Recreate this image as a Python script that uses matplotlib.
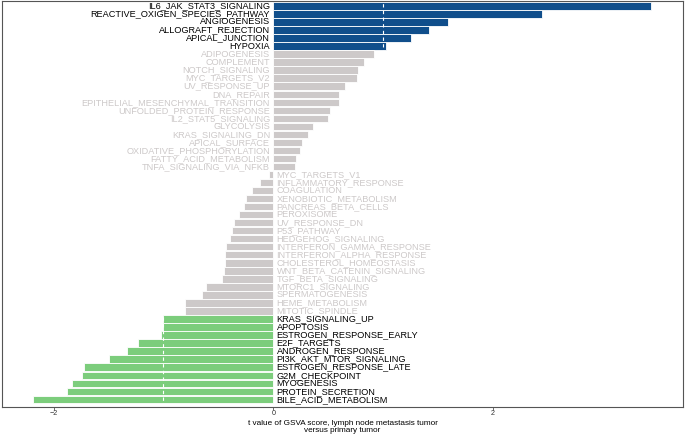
import numpy as np
import matplotlib.pyplot as plt

plt.rcParams['font.family'] = ['Liberation Sans', 'DejaVu Sans']

pathways = ['IL6_JAK_STAT3_SIGNALING', 'REACTIVE_OXIGEN_SPECIES_PATHWAY', 'ANGIOGENESIS',
            'ALLOGRAFT_REJECTION', 'APICAL_JUNCTION', 'HYPOXIA', 'ADIPOGENESIS', 'COMPLEMENT',
            'NOTCH_SIGNALING', 'MYC_TARGETS_V2', 'UV_RESPONSE_UP', 'DNA_REPAIR',
            'EPITHELIAL_MESENCHYMAL_TRANSITION', 'UNFOLDED_PROTEIN_RESPONSE', 'IL2_STAT5_SIGNALING',
            'GLYCOLYSIS', 'KRAS_SIGNALING_DN', 'APICAL_SURFACE', 'OXIDATIVE_PHOSPHORYLATION',
            'FATTY_ACID_METABOLISM', 'TNFA_SIGNALING_VIA_NFKB', 'MYC_TARGETS_V1',
            'INFLAMMATORY_RESPONSE', 'COAGULATION', 'XENOBIOTIC_METABOLISM', 'PANCREAS_BETA_CELLS',
            'PEROXISOME', 'UV_RESPONSE_DN', 'P53_PATHWAY', 'HEDGEHOG_SIGNALING',
            'INTERFERON_GAMMA_RESPONSE', 'INTERFERON_ALPHA_RESPONSE', 'CHOLESTEROL_HOMEOSTASIS',
            'WNT_BETA_CATENIN_SIGNALING', 'TGF_BETA_SIGNALING', 'MTORC1_SIGNALING',
            'SPERMATOGENESIS', 'HEME_METABOLISM', 'MITOTIC_SPINDLE', 'KRAS_SIGNALING_UP',
            'APOPTOSIS', 'ESTROGEN_RESPONSE_EARLY', 'E2F_TARGETS', 'ANDROGEN_RESPONSE',
            'PI3K_AKT_MTOR_SIGNALING', 'ESTROGEN_RESPONSE_LATE', 'G2M_CHECKPOINT', 'MYOGENESIS',
            'PROTEIN_SECRETION', 'BILE_ACID_METABOLISM']

tvals = [3.44, 2.45, 1.59, 1.42, 1.25, 1.03, 0.92, 0.83,
         0.77, 0.76, 0.65, 0.60,
         0.60, 0.52, 0.50,
         0.36, 0.32, 0.26, 0.24,
         0.21, 0.20, -0.04,
         -0.12, -0.19, -0.25, -0.27,
         -0.31, -0.36, -0.38, -0.39,
         -0.43, -0.44, -0.44,
         -0.45, -0.47, -0.61,
         -0.65, -0.80, -0.80, -1.00,
         -1.00, -1.02, -1.23, -1.33,
         -1.50, -1.72, -1.74, -1.83,
         -1.88, -2.19]

# group of each pathway: up (blue), n.s. (grey), down (green)
groups = ['up'] * 6 + ['ns'] * 33 + ['down'] * 11

bar_cols = {'up': '#104E8B', 'ns': '#CDC9C9', 'down': '#7CCD7C'}
txt_cols = {'up': 'black', 'ns': '#CDC9C9', 'down': 'black'}

n = len(tvals)
ypos = np.arange(n)[::-1]

fig = plt.figure(figsize=(6.85, 4.36), dpi=100)
ax = fig.add_axes([0.003, 0.0665, 0.994, 0.931])

ax.barh(ypos, tvals, height=0.92, color=[bar_cols[g] for g in groups],
        edgecolor='white', linewidth=0.6)
ax.axvline(1, color='white', ls=(0, (3, 3)), lw=0.8)
ax.axvline(-1, color='white', ls=(0, (3, 3)), lw=0.8)

for y, v, name, g in zip(ypos, tvals, pathways, groups):
    if v > 0:
        ax.text(-0.03, y, name, ha='right', va='center', fontsize=6.6, color=txt_cols[g])
    else:
        ax.text(0.03, y, name, ha='left', va='center', fontsize=6.6, color=txt_cols[g])

ax.set_xlim(-2.47, 3.73)
ax.set_ylim(-0.96, n - 0.4)
ax.set_yticks([])
ax.set_xticks([-2, 0, 2])
ax.tick_params(axis='x', length=2, width=0.6, pad=0.5, colors='#555555',
               labelsize=5.2, labelcolor='#333333')
for s in ax.spines.values():
    s.set_color('#555555')
    s.set_linewidth(0.8)

ax.set_xlabel('t value of GSVA score, lymph node metastasis tumor\nversus primary tumor',
              fontsize=5.9, labelpad=2, linespacing=1.0)

fig.savefig('out.png', dpi=100)
